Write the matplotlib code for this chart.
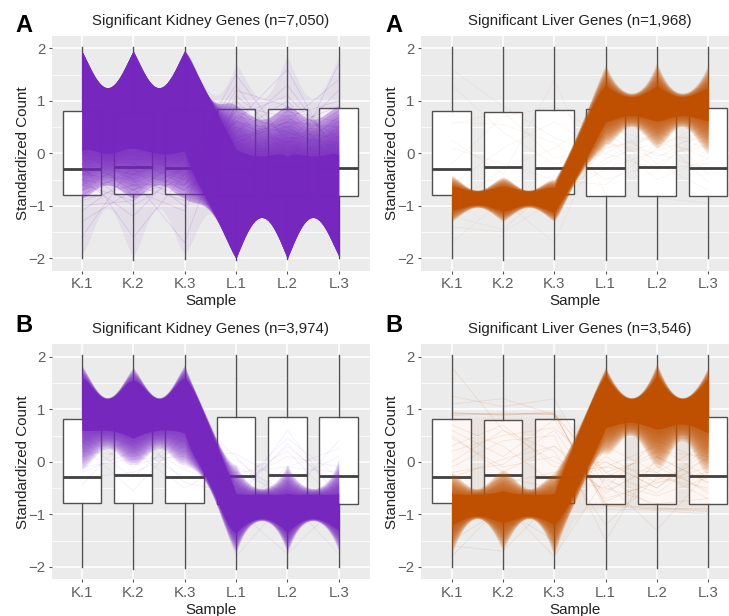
import matplotlib
matplotlib.use("Agg")
import matplotlib.pyplot as plt
import numpy as np
from matplotlib.ticker import FixedLocator

plt.rcParams['font.family'] = ['Liberation Sans', 'DejaVu Sans']

samples = ["K.1", "K.2", "K.3", "L.1", "L.2", "L.3"]
positions = [1, 2, 3, 4, 5, 6]
grid_x = [1, 1.25, 1.5, 1.75, 2, 2.25, 2.5, 2.75, 3, 3.25, 3.5, 3.75, 4,
          4.25, 4.5, 4.75, 5, 5.25, 5.5, 5.75, 6]

# box summaries shared by all panels
box_low = [-2.0, -2.04, -2.02, -2.04, -2.02, -2.0]
box_q1 = [-0.79, -0.78, -0.78, -0.81, -0.81, -0.81]
box_med = [-0.29, -0.26, -0.28, -0.27, -0.26, -0.27]
box_q3 = [0.81, 0.79, 0.82, 0.85, 0.85, 0.86]
box_high = [2.03, 2.03, 2.03, 2.03, 2.03, 2.03]

PURPLE = "#7626BE"
ORANGE = "#BF4F00"

# Kidney A
ka_core_up = [1.95,1.47,1.25,1.47,1.95,1.47,1.25,1.47,1.95,1.5,1.02,0.55,0.08,-0.02,-0.05,-0.02,-0.05,-0.02,-0.05,-0.02,-0.02]
ka_core_lo = [0.05,0.05,0.0,0.05,0.1,0.05,0.0,0.0,0.05,-0.55,-1.0,-1.5,-2.0,-1.45,-1.22,-1.45,-2.0,-1.45,-1.22,-1.45,-1.95]
ka_mid_up = [1.95,1.47,1.25,1.47,1.95,1.47,1.25,1.47,1.95,1.5,1.05,0.95,0.9,0.75,0.65,0.75,0.9,0.75,0.65,0.75,0.9]
ka_mid_lo = [-0.85,-0.7,-0.6,-0.7,-0.85,-0.7,-0.6,-0.7,-0.85,-0.95,-1.1,-1.5,-2.0,-1.45,-1.22,-1.45,-2.0,-1.45,-1.22,-1.45,-1.95]
ka_faint_up = [1.95,1.47,1.25,1.47,1.95,1.47,1.25,1.47,1.95,1.55,1.15,1.2,1.7,1.3,1.05,1.3,1.85,1.3,1.05,1.3,1.85]
ka_faint_lo = [-1.9,-1.4,-1.05,-1.4,-1.95,-1.4,-1.05,-1.4,-1.9,-1.45,-1.15,-1.5,-2.0,-1.45,-1.22,-1.45,-2.0,-1.45,-1.22,-1.45,-1.95]
ka_lines = [
    [-0.1,-0.7,-0.3,0.6,0.4,0.1],[-0.6,-0.2,-0.7,0.2,0.7,-0.1],[-0.3,-0.8,-0.5,0.8,-0.2,0.5],
    [-1.1,-0.4,-0.6,0.3,0.6,0.5],[-0.5,-1.2,-0.2,0.5,0.2,0.8],[-0.8,-0.3,-1.0,1.1,0.3,0.2],
    [-1.6,-0.2,-0.5,0.7,0.5,-0.1],[-0.2,-1.6,-0.4,0.1,0.9,0.3],[-0.4,-0.5,-1.7,1.0,0.1,0.4],
    [0.0,-0.5,-0.8,0.4,1.3,0.0],[-0.7,-0.1,-0.3,1.5,0.2,0.6],[-0.2,-0.4,-0.1,0.2,0.6,1.4],
    [0.1,-0.8,0.0,0.6,1.6,-0.2],[-0.6,-0.9,-0.2,1.3,-0.1,0.7],[-0.9,-0.6,-0.6,0.9,0.7,1.0],
    [-0.4,-0.1,-0.6,0.5,-0.3,1.7],[-0.1,-0.3,-0.7,0.0,0.8,0.6],[-1.3,-0.7,-0.1,0.8,0.4,0.3],
    [-0.5,-0.7,-1.1,0.9,0.0,0.2],[-0.3,-1.0,-0.4,0.3,0.5,0.9],[0.0,-0.2,-0.4,1.2,0.9,-0.3],
    [-0.7,-0.4,0.0,0.4,1.0,-0.1],[-1.0,-0.9,-0.3,0.6,0.2,1.2],[-0.2,-0.6,-0.9,0.7,1.1,0.1],
]

# Liver A
la_core_up = [-0.62,-0.68,-0.72,-0.68,-0.62,-0.68,-0.72,-0.68,-0.65,-0.12,0.4,0.92,1.3,1.14,1.08,1.14,1.3,1.14,1.08,1.14,1.25]
la_core_lo = [-1.08,-1.02,-0.98,-1.02,-1.1,-1.03,-0.98,-1.03,-1.12,-0.72,-0.3,0.15,0.6,0.68,0.72,0.68,0.62,0.68,0.72,0.68,0.62]
la_mid_up = [-0.42,-0.6,-0.7,-0.6,-0.45,-0.6,-0.7,-0.6,-0.5,-0.05,0.5,1.1,1.7,1.28,1.15,1.28,1.75,1.28,1.15,1.28,1.7]
la_mid_lo = [-1.3,-1.12,-1.03,-1.12,-1.3,-1.12,-1.03,-1.12,-1.3,-0.85,-0.4,-0.1,0.15,0.35,0.5,0.35,0.1,0.35,0.5,0.3,0.0]
la_lines = [
    [1.6,0.9,0.3,-0.1,0.4,0.2],[1.3,0.4,-0.2,0.0,-0.3,0.5],[0.6,0.55,0.2,-0.5,-0.2,-0.7],
    [0.25,-0.4,1.4,-0.8,-0.85,-0.95],[-0.2,0.7,0.9,0.3,-0.5,-0.1],[0.55,0.8,-0.1,0.2,0.0,-0.3],
    [-1.7,-0.9,-1.7,0.5,0.2,0.4],[-1.4,-1.5,-0.9,0.1,0.3,-0.1],[-1.0,-0.3,0.1,0.7,-0.2,0.3],
    [-0.6,0.1,0.6,0.0,0.5,-0.4],[-1.2,-1.45,-0.6,-0.2,0.4,0.1],[0.1,-0.2,-0.5,-0.6,0.1,0.6],
    [-0.9,-0.85,-0.8,0.2,-0.1,0.5],[-0.85,-0.8,-0.9,-0.1,0.2,0.0],[-0.9,-0.95,-0.85,0.4,-0.3,-0.2],
    [-0.8,-0.85,-0.95,0.1,0.35,-0.55],[-0.95,-0.8,-0.85,-0.3,0.05,0.35],[-0.9,-0.9,-0.8,0.45,-0.05,0.15],
]

# Kidney B
kb_core_up = [1.6,1.36,1.2,1.36,1.55,1.36,1.2,1.36,1.6,1.2,0.62,0.02,-0.6,-0.62,-0.62,-0.62,-0.6,-0.62,-0.62,-0.62,-0.6]
kb_core_lo = [0.6,0.6,0.6,0.55,0.45,0.55,0.6,0.6,0.55,0.0,-0.45,-1.0,-1.35,-1.15,-1.08,-1.15,-1.35,-1.15,-1.08,-1.15,-1.3]
kb_mid_up = [1.85,1.42,1.22,1.42,1.8,1.42,1.22,1.42,1.85,1.25,0.7,0.2,-0.05,-0.4,-0.5,-0.4,-0.05,-0.4,-0.5,-0.4,0.05]
kb_mid_lo = [-0.15,0.1,0.25,0.1,-0.05,0.1,0.25,0.1,-0.05,-0.2,-0.55,-1.15,-1.75,-1.25,-1.12,-1.25,-1.75,-1.25,-1.12,-1.25,-1.7]
kb_lines = [
    [-0.45,0.6,0.4,-0.8,0.6,-0.7],[0.3,-0.55,0.5,-0.7,0.35,-0.6],[-0.2,0.2,-0.5,0.05,-0.7,0.4],
    [0.5,-0.1,0.3,-0.3,0.2,-0.8],[0.1,0.4,-0.15,-0.5,0.45,-0.3],[-0.3,-0.2,0.2,0.15,-0.4,0.1],
    [0.7,0.3,-0.3,-0.2,-0.1,0.25],[0.4,-0.3,0.6,-0.4,0.1,-0.1],[0.6,0.7,-0.4,-0.6,0.3,-0.5],
    [0.9,0.8,1.0,0.1,-0.9,-0.75],[1.1,1.3,0.9,-1.8,-0.7,-1.75],[1.0,0.9,1.2,-0.9,-1.75,-0.8],
    [0.8,1.0,0.7,-0.2,-0.6,-0.95],[0.2,0.1,0.4,-0.9,-0.1,-0.2],[-0.1,0.05,0.1,-0.1,-0.55,-0.9],
]

# Liver B
lb_core_up = [-0.6,-0.62,-0.62,-0.6,-0.55,-0.6,-0.62,-0.62,-0.6,0.02,0.62,1.2,1.65,1.32,1.2,1.32,1.65,1.32,1.2,1.32,1.6]
lb_core_lo = [-1.2,-1.08,-1.03,-1.08,-1.15,-1.08,-1.03,-1.08,-1.2,-0.85,-0.38,0.12,0.65,0.72,0.75,0.7,0.62,0.68,0.72,0.66,0.55]
lb_mid_up = [-0.2,-0.4,-0.5,-0.35,-0.15,-0.35,-0.5,-0.4,-0.2,0.2,0.7,1.25,1.8,1.38,1.22,1.38,1.88,1.38,1.22,1.38,1.8]
lb_mid_lo = [-1.75,-1.25,-1.08,-1.25,-1.7,-1.25,-1.08,-1.25,-1.8,-1.1,-0.55,-0.05,0.15,0.35,0.5,0.25,-0.1,0.15,0.4,0.1,-0.2]
lb_faint_up = [0.85,0.85,0.85,0.85,0.85,0.85,0.85,0.85,0.85,0.8,0.75,1.25,1.8,1.38,1.22,1.38,1.88,1.38,1.22,1.38,1.8]
lb_faint_lo = [-1.75,-1.25,-1.08,-1.25,-1.7,-1.25,-1.08,-1.25,-1.8,-1.35,-1.0,-0.9,-0.85,-0.85,-0.85,-0.85,-0.85,-0.85,-0.85,-0.85,-0.85]
lb_lines = [
    [0.92,0.9,0.93,-0.85,-0.9,-0.92],[0.9,0.93,0.9,-0.8,-0.88,-0.95],[0.94,0.88,0.95,-0.9,-0.92,-1.0],
    [0.88,0.92,0.92,-0.3,-0.88,-0.9],[0.93,0.9,0.9,-0.82,-0.9,-0.88],[1.25,1.05,1.2,-0.5,-0.8,-0.7],
    [1.1,1.2,0.9,-0.2,0.1,-0.4],[1.8,0.6,0.2,-1.2,-0.3,-0.5],[0.6,0.1,0.8,-0.7,-0.4,-0.1],
    [0.3,0.7,-0.1,0.0,-0.5,0.2],[-0.1,0.4,0.5,-1.5,0.1,-0.4],[0.5,-0.2,0.3,-0.4,-1.3,-0.2],
    [0.2,0.5,0.65,-0.2,-0.6,0.1],[-0.3,0.05,0.3,-0.6,0.0,-0.6],[0.7,0.3,-0.4,-0.1,-0.2,-0.7],
    [0.0,0.6,0.0,-0.35,-0.65,-0.3],[0.45,-0.1,0.1,-0.55,-0.1,-0.55],[-0.2,-0.05,0.6,-0.75,-0.35,0.05],
    [-1.8,-0.8,-1.8,-0.3,0.2,0.1],[-1.6,-1.7,-0.7,0.1,-0.4,-0.2],[-1.5,-0.9,-1.5,0.3,-0.2,0.35],
    [-1.0,-0.4,-0.2,-0.1,0.3,-0.3],[-0.9,-0.3,-0.5,0.0,-0.5,0.3],[-0.5,-1.0,-0.3,-0.5,0.4,0.0],
]

titles = ["Significant Kidney Genes (n=7,050)", "Significant Liver Genes (n=1,968)",
          "Significant Kidney Genes (n=3,974)", "Significant Liver Genes (n=3,546)"]
letters = ["A", "A", "B", "B"]

W, H = 729, 616
fig = plt.figure(figsize=(W / 100, H / 100), dpi=100, facecolor="white")


def make_axes(x0, x1, y0, y1, xlim):
    ax = fig.add_axes([x0 / W, 1 - y1 / H, (x1 - x0) / W, (y1 - y0) / H])
    ax.set_xlim(*xlim)
    ax.set_ylim(-2.236, 2.236)
    ax.set_facecolor("#EBEBEB")
    for s in ax.spines.values():
        s.set_visible(False)
    ax.set_axisbelow(True)
    ax.set_xticks(positions)
    ax.set_xticklabels(samples)
    ax.set_yticks([-2, -1, 0, 1, 2])
    ax.yaxis.set_minor_locator(FixedLocator([-1.5, -0.5, 0.5, 1.5]))
    ax.grid(True, which="major", color="white", lw=1.1)
    ax.grid(True, which="minor", axis="y", color="white", lw=0.55)
    ax.tick_params(axis="both", which="major", length=2.5, width=0.8, color="#555555",
                   labelcolor="#5F5F5F", labelsize=10.8, pad=2)
    ax.tick_params(axis="y", which="minor", length=0)
    ax.set_xlabel("Sample", fontsize=10.9, color="#222222", labelpad=2.5)
    ax.set_ylabel("Standardized Count", fontsize=10.9, color="#222222", labelpad=-1.0)
    return ax


def draw_boxes(ax):
    stats = [dict(whislo=box_low[i], q1=box_q1[i], med=box_med[i], q3=box_q3[i],
                  whishi=box_high[i], fliers=[]) for i in range(6)]
    ax.bxp(stats, positions=positions, widths=0.75, showfliers=False, showcaps=False,
           patch_artist=True, manage_ticks=False, zorder=2,
           boxprops=dict(facecolor="white", edgecolor="#505050", lw=1.0),
           whiskerprops=dict(color="#505050", lw=1.0),
           medianprops=dict(color="#404040", lw=2.0, solid_capstyle="butt"))


def smooth(values):
    """Curve through the five read values of each sample-to-sample interval."""
    xs, ys = [], []
    for i in range(0, 20, 4):
        px = np.array(grid_x[i:i + 5])
        py = np.array(values[i:i + 5])
        coef = np.polyfit(px - px[0], py, 4)
        fine = np.linspace(px[0], px[-1], 25)
        xs.extend(fine.tolist())
        ys.extend(np.polyval(coef, fine - px[0]).tolist())
    return np.array(xs), np.array(ys)


def flat_band(ax, up, lo, color, alpha):
    x, u = smooth(up)
    _, l = smooth(lo)
    ax.fill_between(x, l, np.maximum(u, l), color=color, alpha=alpha, lw=0, zorder=3)


def soft_band(ax, out_up, out_lo, in_up, in_lo, color, layers=14, layer_alpha=0.14):
    """Dense band whose edges fade out between the inner and the outer envelope."""
    x, ou = smooth(out_up)
    _, ol = smooth(out_lo)
    _, iu = smooth(in_up)
    _, il = smooth(in_lo)
    for t in np.linspace(0, 1, layers):
        u = ou + (iu - ou) * t
        l = ol + (il - ol) * t
        ax.fill_between(x, l, np.maximum(u, l), color=color, alpha=layer_alpha, lw=0, zorder=3)
    ax.fill_between(x, il, iu, color=color, alpha=0.93, lw=0, zorder=3)


def draw_lines(ax, lines, color, alpha, lw=0.5):
    for row in lines:
        ax.plot(positions, row, color=color, alpha=alpha, lw=lw, zorder=3)


def finish(title, title_x, title_y, letter, letter_x, letter_y):
    fig.text(title_x / W, 1 - title_y / H, title, ha="center", va="center",
             fontsize=10.8, color="#222222")
    fig.text(letter_x / W, 1 - letter_y / H, letter, fontsize=17, fontweight="bold",
             color="black", ha="left", va="center")


# Panel 1
ax1 = make_axes(51.5, 369.5, 36, 270.7, (0.41, 6.6))
draw_boxes(ax1)
flat_band(ax1, ka_faint_up, ka_faint_lo, PURPLE, 0.07)
draw_lines(ax1, ka_lines, PURPLE, 0.16)
flat_band(ax1, ka_mid_up, ka_mid_lo, PURPLE, 0.22)
soft_band(ax1, ka_mid_up, ka_mid_lo, ka_core_up, ka_core_lo, PURPLE)
finish(titles[0], 210.5, 21, letters[0], 15, 25)

# Panel 2
ax2 = make_axes(420.7, 729, 36, 270.7, (0.396, 6.406))
draw_boxes(ax2)
draw_lines(ax2, la_lines, ORANGE, 0.07)
soft_band(ax2, la_mid_up, la_mid_lo, la_core_up, la_core_lo, ORANGE)
finish(titles[1], 579.5, 21, letters[1], 385, 25)

# Panel 3
ax3 = make_axes(51.5, 369.5, 344.3, 579.3, (0.41, 6.6))
draw_boxes(ax3)
draw_lines(ax3, kb_lines, PURPLE, 0.09)
soft_band(ax3, kb_mid_up, kb_mid_lo, kb_core_up, kb_core_lo, PURPLE)
finish(titles[2], 210.5, 329, letters[2], 15, 326)

# Panel 4
ax4 = make_axes(420.7, 729, 344.3, 579.3, (0.396, 6.406))
draw_boxes(ax4)
flat_band(ax4, lb_faint_up, lb_faint_lo, ORANGE, 0.045)
draw_lines(ax4, lb_lines, ORANGE, 0.13)
soft_band(ax4, lb_mid_up, lb_mid_lo, lb_core_up, lb_core_lo, ORANGE)
finish(titles[3], 579.5, 329, letters[3], 385, 326)

fig.savefig("out.png", dpi=100)
